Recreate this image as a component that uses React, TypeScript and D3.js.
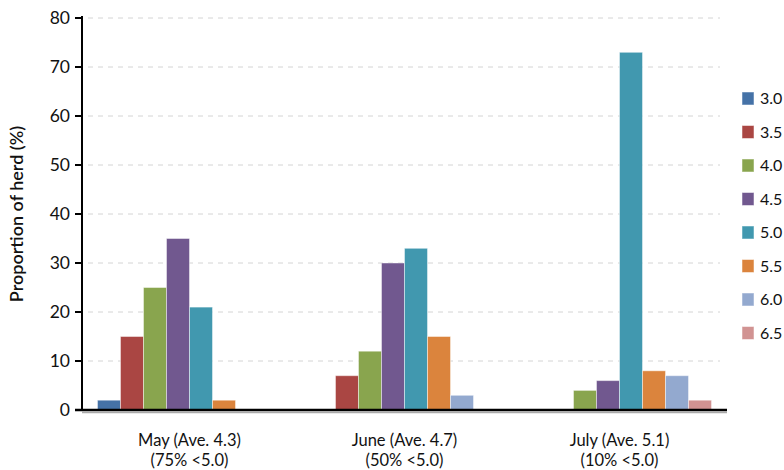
import React from 'react';
import * as d3 from 'd3';

const width: number = 784;
const height: number = 470;

// chart data
const months: string[] = ['May', 'June', 'July'];
const monthLine1: string[] = ['May (Ave. 4.3)', 'June (Ave. 4.7)', 'July (Ave. 5.1)'];
const monthLine2: string[] = ['(75% <5.0)', '(50% <5.0)', '(10% <5.0)'];
const scores: string[] = ['3.0', '3.5', '4.0', '4.5', '5.0', '5.5', '6.0', '6.5'];
const mayValues: number[] = [2, 15, 25, 35, 21, 2, 0, 0];
const juneValues: number[] = [0, 7, 12, 30, 33, 15, 3, 0];
const julyValues: number[] = [0, 0, 4, 6, 73, 8, 7, 2];
const yTicks: number[] = [0, 10, 20, 30, 40, 50, 60, 70, 80];
const colors: string[] = ['#4572A7', '#AA4643', '#89A54E', '#71588F', '#4198AF', '#DB843D', '#93A9CF', '#D19392'];

const font = 'Lato, "DejaVu Sans", sans-serif';

const App = () => {
  const left = 82, right = 727, top = 18, bottom = 410;
  const series: number[][] = [mayValues, juneValues, julyValues];

  var yScale: any = d3.scaleLinear().domain([0, 80]).range([bottom, top]);
  var xScale: any = d3.scaleBand().domain(months).range([left, right])
                      .paddingInner(0.144).paddingOuter(0.072);
  var x1Scale: any = d3.scaleBand().domain(scores).range([0, xScale.bandwidth()]);
  var color: any = d3.scaleOrdinal().domain(scores).range(colors);

  return (
    <svg width={width} height={height} viewBox={`0 0 ${width} ${height}`}
         style={{ position: 'absolute', left: 0, top: 0, background: '#fff' }}>
      {/* gridlines */}
      {yTicks.filter((t) => t > 0).map((t) => (
        <line key={'g' + t} x1={left + 6} x2={720} y1={yScale(t)} y2={yScale(t)}
              stroke="#d4d4d4" strokeWidth={1} strokeDasharray="5,5" />
      ))}

      {/* bars */}
      {months.map((m, i) => (
        <g key={m} transform={`translate(${xScale(m)},0)`}>
          {series[i].map((v, j) => v > 0 ? (
            <rect key={scores[j]} x={x1Scale(scores[j])} y={yScale(v)}
                  width={x1Scale.bandwidth()} height={bottom - yScale(v)}
                  fill={color(scores[j])} stroke="#ffffff" strokeOpacity={0.45} strokeWidth={1} />
          ) : null)}
        </g>
      ))}

      {/* y axis */}
      <line x1={left} x2={left} y1={top - 2} y2={bottom} stroke="#000" strokeWidth={2} />
      {yTicks.map((t) => (
        <g key={'t' + t}>
          <line x1={left - 7} x2={left} y1={yScale(t)} y2={yScale(t)} stroke="#000" strokeWidth={2} />
          <text x={left - 12} y={yScale(t)} dy="0.36em" textAnchor="end"
                fontFamily={font} fontSize={17.5} fill="#111">{t}</text>
        </g>
      ))}
      <text transform={`translate(23,${(top + bottom) / 2}) rotate(-90)`} textAnchor="middle"
            fontFamily={font} fontSize={18} fontWeight={600} fill="#111">Proportion of herd (%)</text>

      {/* x axis */}
      <line x1={left} x2={right} y1={bottom + 2.5} y2={bottom + 2.5} stroke="#aaa" strokeWidth={1.5} />
      <line x1={left - 7} x2={right} y1={bottom} y2={bottom} stroke="#000" strokeWidth={2.5} />
      {months.map((m, i) => (
        <g key={'l' + m}>
          <text x={xScale(m) + xScale.bandwidth() / 2} y={446} textAnchor="middle"
                fontFamily={font} fontSize={16.5} fill="#111">{monthLine1[i]}</text>
          <text x={xScale(m) + xScale.bandwidth() / 2} y={466} textAnchor="middle"
                fontFamily={font} fontSize={16.5} fill="#111">{monthLine2[i]}</text>
        </g>
      ))}

      {/* legend */}
      {scores.map((s, i) => (
        <g key={'k' + s} transform={`translate(742,${92 + i * 33.5})`}>
          <rect x={0} y={0} width={12} height={13} fill={color(s)} stroke="#fff" strokeOpacity={0.5} />
          <text x={18} y={6.5} dy="0.36em" fontFamily={font} fontSize={16} fill="#111">{s}</text>
        </g>
      ))}
    </svg>
  );
};

export default App;
